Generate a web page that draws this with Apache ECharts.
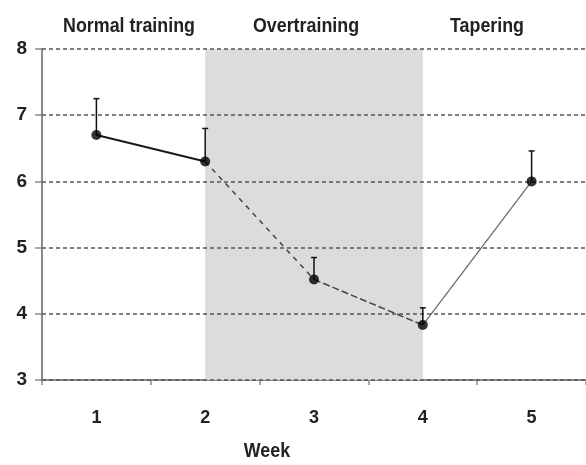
<!DOCTYPE html>
<html>
<head>
<meta charset="utf-8">
<script src="https://cdn.jsdelivr.net/npm/echarts@6/dist/echarts.min.js"></script>
<style>
  html, body { margin: 0; padding: 0; background: #fff; }
  #chart { width: 586px; height: 465px; }
</style>
</head>
<body>
<div id="chart"></div>
<script>
// Weekly means with upper error bars
const weeks = ['1', '2', '3', '4', '5'];
const means = [6.7, 6.3, 4.52, 3.83, 6.0];
const upper = [7.25, 6.8, 4.85, 4.09, 6.46];
const yTicks = [3, 4, 5, 6, 7, 8];
const phases = [
  { name: 'Normal training', x: 129 },
  { name: 'Overtraining', x: 306 },
  { name: 'Tapering', x: 487 }
];
// Shaded phase spans from week 2 to week 4
const shadeFrom = '2';
const shadeTo = '4';

const FONT = '"Liberation Sans", Arial, sans-serif';

// Each segment between consecutive weeks gets its own line style
const segStyles = [
  { color: '#1a1a1a', width: 2, type: 'solid' },
  { color: '#444', width: 1.5, type: [5, 5] },
  { color: '#444', width: 1.5, type: [7, 3] },
  { color: '#666', width: 1.2, type: 'solid' }
];
const segmentSeries = segStyles.map((st, i) => ({
  type: 'line',
  z: 4,
  silent: true,
  symbol: 'none',
  data: means.map((v, j) => (j === i || j === i + 1) ? v : null),
  lineStyle: st
}));

// Condensed heading text
function heading(text, x, y) {
  return {
    type: 'text',
    x: x,
    y: y,
    scaleX: 0.85,
    style: {
      text: text,
      fontFamily: FONT,
      fontSize: 21,
      fontWeight: 'bold',
      fill: '#222',
      textAlign: 'center',
      textVerticalAlign: 'middle'
    }
  };
}

const chart = echarts.init(document.getElementById('chart'), null, { renderer: 'canvas' });
chart.setOption({
  animation: false,
  backgroundColor: '#fff',
  grid: { left: 42, top: 49, height: 331, width: 550 },
  xAxis: {
    type: 'category',
    data: weeks,
    boundaryGap: true,
    axisLine: { lineStyle: { color: '#8a8a8a', width: 2 } },
    axisTick: { show: true, length: 5, lineStyle: { color: '#8a8a8a', width: 1.5 } },
    axisLabel: { margin: 29, fontFamily: FONT, fontSize: 18, fontWeight: 'bold', color: '#222' },
    splitLine: { show: false }
  },
  yAxis: {
    type: 'value',
    min: yTicks[0],
    max: yTicks[yTicks.length - 1],
    interval: 1,
    axisLine: { show: true, lineStyle: { color: '#8a8a8a', width: 2 } },
    axisTick: { show: true, length: 7, lineStyle: { color: '#8a8a8a', width: 1.5 } },
    axisLabel: { margin: 15, fontFamily: FONT, fontSize: 19, fontWeight: 'bold', color: '#222' },
    splitLine: { show: false }
  },
  series: [
    {
      type: 'line',
      z: 1,
      silent: true,
      data: [],
      markArea: {
        silent: true,
        itemStyle: { color: '#dcdcdc' },
        data: [[{ xAxis: shadeFrom, yAxis: yTicks[0] }, { xAxis: shadeTo, yAxis: yTicks[yTicks.length - 1] }]]
      }
    },
    {
      type: 'line',
      z: 2,
      silent: true,
      data: [],
      markLine: {
        silent: true,
        symbol: 'none',
        label: { show: false },
        lineStyle: { color: '#555', width: 1.5, type: [4, 3] },
        data: yTicks.map(v => ({ yAxis: v }))
      }
    },
    ...segmentSeries,
    {
      type: 'custom',
      z: 5,
      silent: true,
      data: weeks.map((w, i) => [i, means[i], upper[i]]),
      renderItem: function (params, api) {
        const base = api.coord([api.value(0), api.value(1)]);
        const top = api.coord([api.value(0), api.value(2)]);
        const cap = 3;
        const style = { stroke: '#111', lineWidth: 1.5 };
        return {
          type: 'group',
          children: [
            { type: 'line', shape: { x1: base[0], y1: base[1], x2: top[0], y2: top[1] }, style },
            { type: 'line', shape: { x1: top[0] - cap, y1: top[1], x2: top[0] + cap, y2: top[1] }, style }
          ]
        };
      }
    },
    {
      type: 'scatter',
      z: 6,
      silent: true,
      symbol: 'circle',
      symbolSize: 10,
      itemStyle: { color: '#000' },
      data: means
    }
  ],
  graphic: [
    ...phases.map(p => heading(p.name, p.x, 26)),
    heading('Week', 267, 451)
  ]
});
</script>
</body>
</html>
